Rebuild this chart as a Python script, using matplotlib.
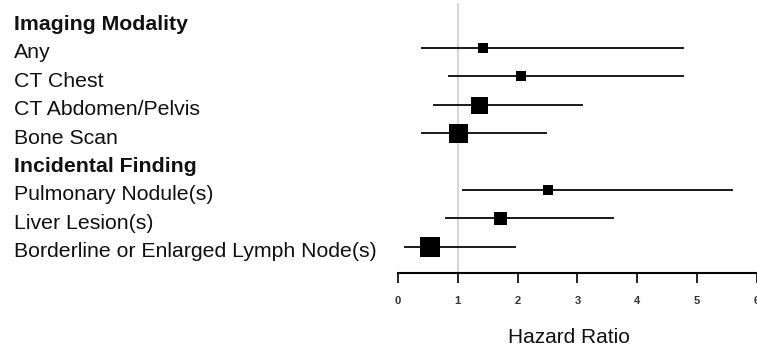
import matplotlib
matplotlib.use("Agg")
import matplotlib.pyplot as plt
from matplotlib.transforms import blended_transform_factory

plt.rcParams['font.family'] = ['Liberation Sans', 'DejaVu Sans']

# rows, top to bottom (None = group header)
labels = ["Imaging Modality", "Any", "CT Chest", "CT Abdomen/Pelvis", "Bone Scan",
          "Incidental Finding", "Pulmonary Nodule(s)", "Liver Lesion(s)",
          "Borderline or Enlarged Lymph Node(s)"]
is_header = [True, False, False, False, False, True, False, False, False]

hr = [None, 1.42, 2.05, 1.36, 1.01, None, 2.50, 1.71, 0.54]
lower = [None, 0.40, 0.85, 0.60, 0.40, None, 1.08, 0.80, 0.12]
upper = [None, 4.77, 4.77, 3.07, 2.47, None, 5.59, 3.60, 1.96]
# relative box size (weight) in pixels
box_px = [None, 10, 10, 17, 19, None, 10, 13, 20]

xticks = [0, 1, 2, 3, 4, 5, 6]

W, H = 757, 349
fig = plt.figure(figsize=(W / 100, H / 100), dpi=100)

# axes placed in pixel terms: x=0 at 398px, 59.8 px per unit
ax_left, ax_right = 380, 757
ax_bottom = 272.7
ax = fig.add_axes([ax_left / W, 1 - ax_bottom / H, (ax_right - ax_left) / W, ax_bottom / H])
ax.set_xlim((ax_left - 398) / 59.8, (ax_right - 398) / 59.8)
ax.set_ylim(8.915, -0.687)

# reference line at HR = 1
ax.plot([1, 1], [8.915, -0.55], color="#cccccc", lw=1.1, zorder=1)

for i in range(len(labels)):
    if hr[i] is None:
        continue
    ax.plot([lower[i], upper[i]], [i, i], color="#1a1a1a", lw=1.4, zorder=2)
    ax.plot(hr[i], i, marker="s", color="black", ms=box_px[i] * 0.72, mew=0, zorder=3)

trans = blended_transform_factory(fig.transFigure, ax.transData)
for i, lab in enumerate(labels):
    ax.text(14 / W, i + 0.37, lab, transform=trans, fontsize=15.3, va="baseline", ha="left",
            fontweight="bold" if is_header[i] else "normal", color="#111111")

for s in ["top", "right", "left"]:
    ax.spines[s].set_visible(False)
ax.spines["bottom"].set_bounds(0, 6)
ax.spines["bottom"].set_linewidth(1.5)
ax.set_yticks([])
ax.set_xticks(xticks)
ax.set_xticklabels([str(t) for t in xticks], fontsize=8, fontweight="bold", color="#333333")
ax.tick_params(axis="x", length=7.5, width=1.2, pad=9)
ax.patch.set_alpha(0)

fig.text(569 / W, 1 - 343 / H, "Hazard Ratio", fontsize=15, ha="center", va="baseline", color="#111111")

fig.savefig("out.png", dpi=100)
